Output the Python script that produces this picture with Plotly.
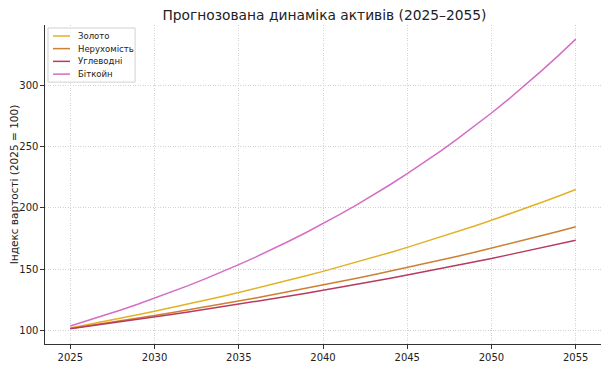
import plotly.graph_objects as go

years = list(range(2025, 2056))

gold = [102.50, 105.06, 107.69, 110.38, 113.14, 115.97, 118.87, 121.84, 124.89, 128.01,
        131.21, 134.49, 137.85, 141.30, 144.83, 148.45, 152.16, 155.97, 159.87, 163.86,
        167.96, 172.16, 176.46, 180.87, 185.39, 190.03, 194.78, 199.65, 204.64, 209.76, 215.00]
real_estate = [102.00, 104.04, 106.12, 108.24, 110.41, 112.62, 114.87, 117.17, 119.51, 121.90,
               124.34, 126.82, 129.36, 131.95, 134.59, 137.28, 140.02, 142.82, 145.68, 148.59,
               151.57, 154.60, 157.69, 160.84, 164.06, 167.34, 170.69, 174.10, 177.58, 181.14, 184.76]
hydrocarbons = [101.80, 103.63, 105.50, 107.40, 109.33, 111.30, 113.30, 115.34, 117.42, 119.53,
                121.68, 123.87, 126.10, 128.37, 130.68, 133.03, 135.43, 137.87, 140.35, 142.87,
                145.45, 148.06, 150.73, 153.44, 156.20, 159.01, 161.88, 164.79, 167.76, 170.78, 173.85]
bitcoin = [104.00, 108.16, 112.49, 116.99, 121.67, 126.53, 131.59, 136.86, 142.33, 148.02,
           153.95, 160.10, 166.51, 173.17, 180.09, 187.30, 194.79, 202.58, 210.68, 219.11,
           227.88, 236.99, 246.47, 256.33, 266.58, 277.25, 288.34, 299.87, 311.87, 324.34, 337.31]

names = ["Золото", "Нерухомість", "Углеводні", "Біткойн"]
colors = ["#e3b128", "#cd7f32", "#b83a5e", "#d46ec4"]
series = [gold, real_estate, hydrocarbons, bitcoin]

x_ticks = [2025, 2030, 2035, 2040, 2045, 2050, 2055]
y_ticks = [100, 150, 200, 250, 300]

font_family = "DejaVu Sans"

fig = go.Figure()
for name, col, vals in zip(names, colors, series):
    fig.add_trace(go.Scatter(x=years, y=vals, mode="lines", name=name, showlegend=False,
                             line=dict(color=col, width=1.5)))

# compact matplotlib-style legend drawn in paper coordinates
shapes = [dict(type="rect", xref="paper", yref="paper", x0=0.0054, x1=0.162, y0=0.821, y1=0.9906,
               line=dict(color="#d0d0d0", width=1), fillcolor="rgba(255,255,255,0.9)", layer="above")]
annotations = []
entry_y = [0.9655, 0.926, 0.886, 0.846]
for name, col, yy in zip(names, colors, entry_y):
    shapes.append(dict(type="line", xref="paper", yref="paper", x0=0.0144, x1=0.045, y0=yy, y1=yy,
                       line=dict(color=col, width=1.5), layer="above"))
    annotations.append(dict(xref="paper", yref="paper", x=0.0558, y=yy, xanchor="left", yanchor="middle",
                            text=name, showarrow=False, font=dict(size=8.5, family=font_family, color="#222")))

# the page body adds an 8px offset, so the figure is 602x358 with reduced left/top margins
fig.update_layout(
    width=602, height=358,
    margin=dict(l=37, r=9, t=17, b=22, autoexpand=False),
    paper_bgcolor="white", plot_bgcolor="white",
    title=dict(text="Прогнозована динаміка активів (2025–2055)", x=0.5257, xanchor="center",
               y=0.981, yanchor="middle", automargin=False,
               font=dict(family=font_family, size=13.8, color="#222")),
    font=dict(family=font_family, size=10, color="#222"),
    showlegend=False,
    shapes=shapes,
    annotations=annotations,
)
grid_dash = "1px,1.5px"
fig.update_xaxes(range=[2023.5, 2056.5], tickvals=x_ticks, ticktext=[str(v) for v in x_ticks],
                 showgrid=True, gridcolor="#d2d2d2", griddash=grid_dash, gridwidth=0.8, automargin=False,
                 showline=True, linecolor="#333", linewidth=1.2, ticks="outside",
                 ticklen=3.5, tickcolor="#333", zeroline=False, tickfont=dict(size=10))
fig.update_yaxes(range=[89.4, 348.8], tickvals=y_ticks, ticktext=[str(v) for v in y_ticks],
                 showgrid=True, gridcolor="#d2d2d2", griddash=grid_dash, gridwidth=0.8, automargin=False,
                 showline=True, linecolor="#333", linewidth=1.2, ticks="outside",
                 ticklen=3.5, tickcolor="#333", zeroline=False, tickfont=dict(size=10),
                 title=dict(text="Індекс вартості (2025 = 100)", font=dict(size=10.5), standoff=7))

fig.write_html("out.html")
